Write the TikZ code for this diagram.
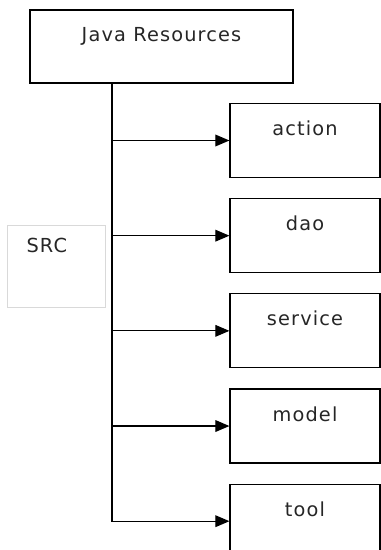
\documentclass[tikz,border=0pt]{standalone}
\usepackage{fontspec}
\setmainfont{DejaVu Sans}[LetterSpace=6]
\usetikzlibrary{arrows.meta, positioning}
\tikzstyle{folder} = [rectangle, draw=black, line width=1pt, minimum width=4.5cm, minimum height=2.22cm, text height=0.45cm, text depth=0.75cm, text=black!85]
\tikzstyle{group} = [rectangle, draw=black!15, line width=0.6pt, minimum width=2.94cm, minimum height=2.46cm, text height=0.45cm, text depth=1.25cm, text=black!85]
\tikzstyle{arrow} = [line width=1pt, -{Triangle[length=12pt, width=10pt]}]
\begin{document}
\begin{tikzpicture}[node distance=0.6cm, font=\fontsize{16.5}{20}\selectfont]
    \useasboundingbox (0,0) rectangle (11.43,-16.5);
    % Nodes
    \node (res) [folder, minimum width=7.89cm, minimum height=2.19cm] at (4.845,-1.395) {Java Resources};
    \node (action) [folder] at (9.15,-4.215) {action};
    \node (dao) [folder, below=of action] {dao};
    \node (service) [folder, below=of dao] {service};
    \node (model) [folder, below=of service] {model};
    \node (tool) [folder, below=of model] {tool};
    \node (src) [group] at (1.68,-7.98) {SRC\hspace*{0.55cm}};
    \coordinate (trunk) at ([xshift=-1.485cm]res.south);

    % Arrows
    \draw [arrow] (trunk) |- (tool.west);
    \foreach \n in {action,dao,service,model}
        \draw [arrow] (trunk |- \n.west) -- (\n.west);
\end{tikzpicture}
\end{document}
